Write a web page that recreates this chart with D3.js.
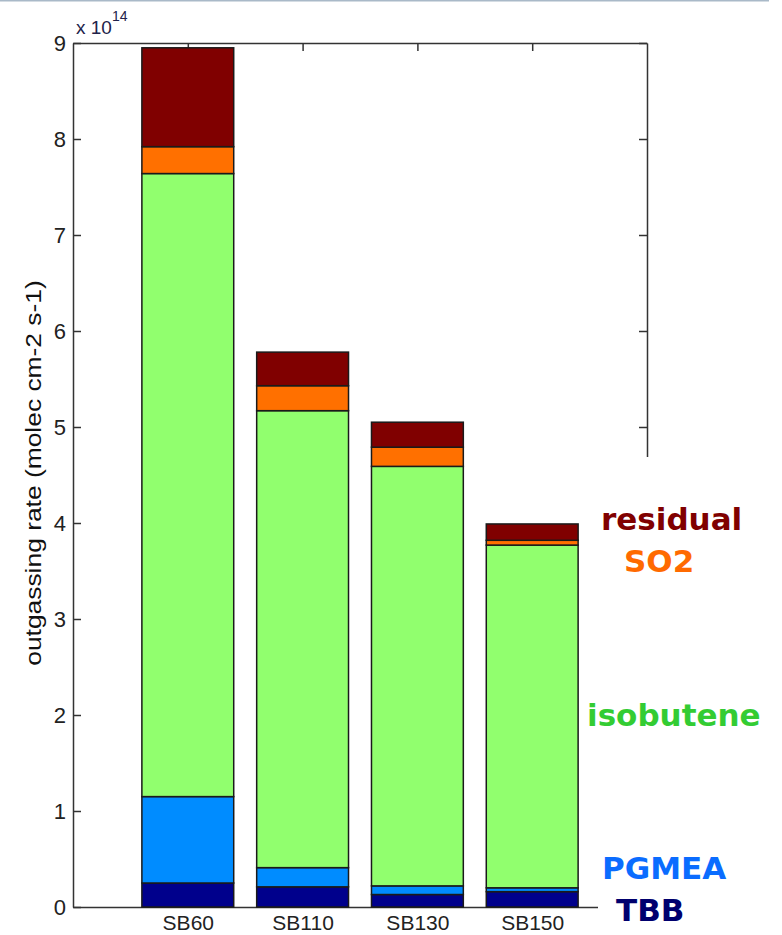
<!DOCTYPE html>
<html>
<head>
<meta charset="utf-8">
<script src="https://cdn.jsdelivr.net/npm/d3@7"></script>
<style>
  html, body { margin: 0; padding: 0; background: #fff; }
  svg { display: block; }
</style>
</head>
<body>
<svg id="chart" width="782" height="935"></svg>
<script>
// ---- data (units of 1e14 molec cm-2 s-1) ----
const categories = ["SB60", "SB110", "SB130", "SB150"];
const seriesNames = ["TBB", "PGMEA", "isobutene", "SO2", "residual"];
const tbb       = [0.25, 0.21, 0.13, 0.16];
const pgmea     = [0.90, 0.20, 0.09, 0.04];
const isobutene = [6.49, 4.76, 4.37, 3.57];
const so2       = [0.28, 0.26, 0.20, 0.05];
const residual  = [1.03, 0.35, 0.26, 0.17];
const yTicks = [0, 1, 2, 3, 4, 5, 6, 7, 8, 9];
const yLabel = "outgassing rate (molec cm-2 s-1)";

const barColors   = { TBB: "#00008c", PGMEA: "#008cff", isobutene: "#91ff6e", SO2: "#ff7000", residual: "#800000" };
const labelColors = { TBB: "#00006e", PGMEA: "#0a6cff", isobutene: "#33cc33", SO2: "#ff6a00", residual: "#800000" };

const seriesValues = { TBB: tbb, PGMEA: pgmea, isobutene: isobutene, SO2: so2, residual: residual };
const table = categories.map((c, i) => {
  const row = { cat: c, idx: i + 1 };
  seriesNames.forEach(s => row[s] = seriesValues[s][i]);
  return row;
});
const stacked = d3.stack().keys(seriesNames)(table);

// ---- layout ----
const L = 73, R = 647, T = 43, B = 907;
const svg = d3.select("#chart");
const x = d3.scaleLinear().domain([0, 5]).range([L, R]);
const y = d3.scaleLinear().domain([0, 9]).range([B, T]);
const barW = 0.8;
const font = "'Liberation Sans', Arial, sans-serif";
const axisColor = "#333";

// slide border line at top
svg.append("line").attr("x1", 0).attr("x2", 769).attr("y1", 0.5).attr("y2", 0.5)
  .attr("stroke", "#a9b9c8").attr("stroke-width", 2);

// axes
const gl = svg.append("g").attr("transform", `translate(${L},0)`)
  .call(d3.axisLeft(y).tickValues(yTicks).tickSizeInner(-8).tickSizeOuter(0).tickPadding(7).tickFormat(d3.format("d")));
const gr = svg.append("g").attr("transform", `translate(${R},0)`)
  .call(d3.axisRight(y).tickValues(yTicks).tickSizeInner(-8).tickSizeOuter(0).tickFormat(""));
const gb = svg.append("g").attr("transform", `translate(0,${B})`)
  .call(d3.axisBottom(x).tickValues([1, 2, 3, 4]).tickSizeInner(-8).tickSizeOuter(0).tickPadding(8)
    .tickFormat(d => categories[d - 1]));
const gt = svg.append("g").attr("transform", `translate(0,${T})`)
  .call(d3.axisTop(x).tickValues([1, 2, 3, 4]).tickSizeInner(-8).tickSizeOuter(0).tickFormat(""));

[gl, gr, gb, gt].forEach(g => {
  g.selectAll("path.domain").attr("stroke", axisColor).attr("stroke-width", 1.5);
  g.selectAll(".tick line").attr("stroke", axisColor).attr("stroke-width", 1.5);
  g.selectAll(".tick text").attr("fill", "#222").style("font-family", font).style("font-size", "22px");
});
gb.selectAll(".tick text").style("font-size", "21px");

// bars
svg.append("g").selectAll("g").data(stacked).join("g")
  .attr("fill", d => barColors[d.key])
  .selectAll("rect").data(d => d).join("rect")
  .attr("x", d => x(d.data.idx - barW / 2))
  .attr("width", d => x(barW) - x(0))
  .attr("y", d => y(d[1]))
  .attr("height", d => y(d[0]) - y(d[1]))
  .attr("stroke", "#1a1a1a").attr("stroke-width", 1.5);

// white overlay (legend box area in the original slide)
svg.append("rect").attr("x", 598).attr("y", 457).attr("width", 184).attr("height", 478).attr("fill", "#fff");

// exponent
const ex = svg.append("text").attr("x", 76).attr("y", 34).attr("fill", "#22224a")
  .style("font-family", font).style("font-size", "19px");
ex.append("tspan").text("x 10");
ex.append("tspan").attr("dy", -13).style("font-size", "14px").text("14");

// y label
svg.append("text")
  .attr("transform", `translate(41,473) rotate(-90) scale(1.2,1)`)
  .attr("text-anchor", "middle").attr("fill", "#111")
  .style("font-family", font).style("font-size", "22px")
  .text(yLabel);

// series labels
const labelPos = {
  residual:  [601, 530],
  SO2:       [624, 572],
  isobutene: [587, 726],
  PGMEA:     [602, 879],
  TBB:       [616, 921]
};
svg.append("g").selectAll("text").data(seriesNames).join("text")
  .attr("x", d => labelPos[d][0]).attr("y", d => labelPos[d][1])
  .attr("fill", d => labelColors[d])
  .style("font-family", "'DejaVu Sans', Verdana, sans-serif")
  .style("font-weight", "bold").style("font-size", "31px")
  .text(d => d);
</script>
</body>
</html>
